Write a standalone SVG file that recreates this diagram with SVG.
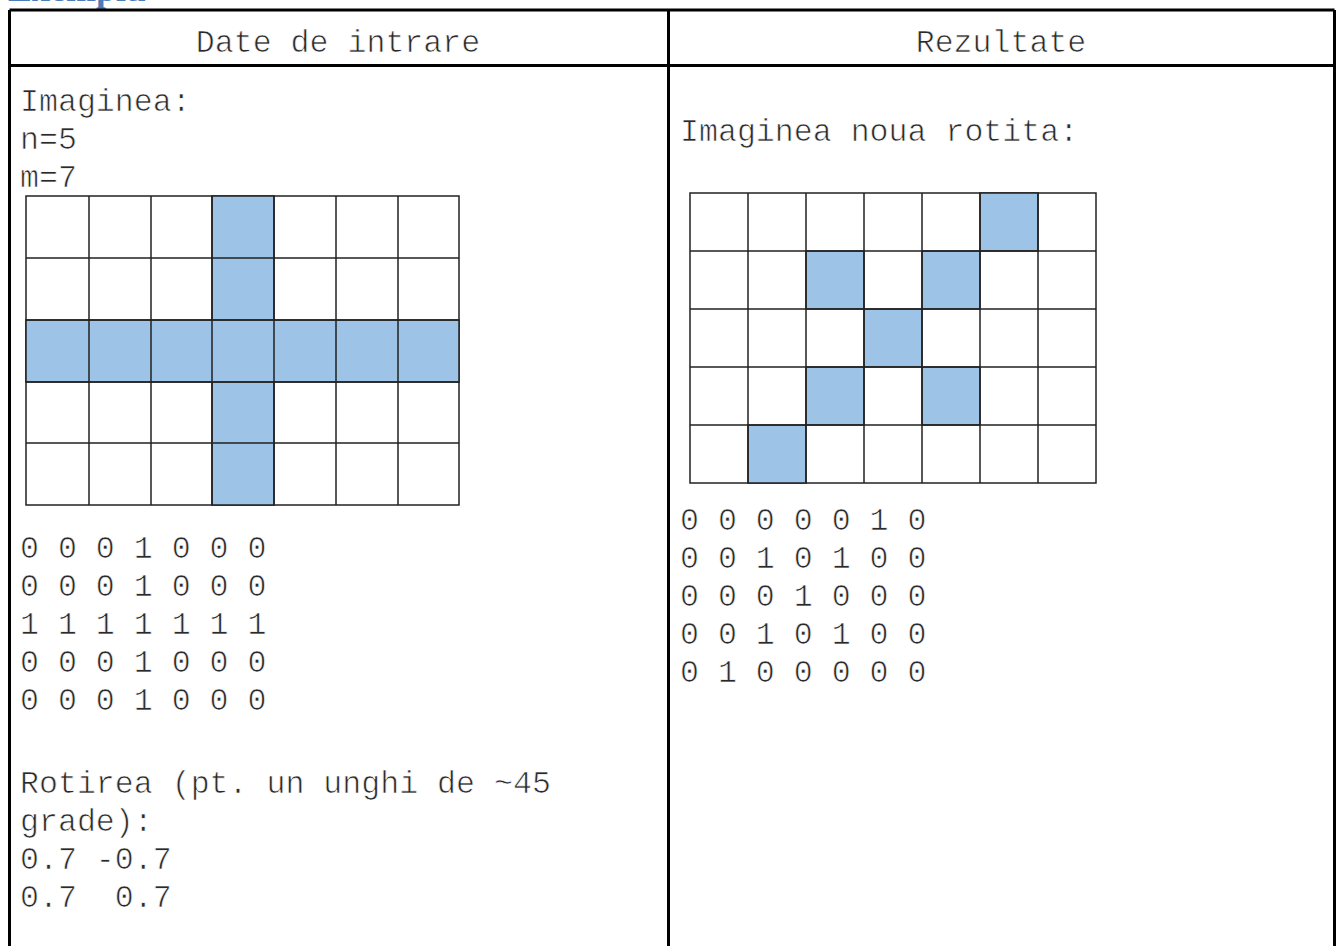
<svg xmlns="http://www.w3.org/2000/svg" width="1341" height="946" viewBox="0 0 1341 946">
<style>
.t{font-family:"Liberation Mono","Courier New",monospace;font-size:31.6px;fill:#2a2a2a;stroke:#fff;stroke-width:0.7px;paint-order:fill}
.b{stroke:#000;stroke-width:3;fill:none}
.c{fill:#fff;stroke:#222;stroke-width:1.5}
.f{fill:#9dc3e6;stroke:#222;stroke-width:1.5}
</style>
<rect width="1341" height="946" fill="#fff"/>
<text x="8" y="1" font-family="Liberation Serif,serif" font-weight="bold" font-size="36" fill="#4a7ebb">Exemplu</text>
<g id="table">
<path class="b" d="M9.5 10H1334.5M9.5 65.5H1334.5M9.5 10V946M668.5 10V946M1334.5 10V946"/>
</g>
<g id="header">
<text class="t" x="338" y="52" text-anchor="middle">Date de intrare</text>
<text class="t" x="1001" y="52" text-anchor="middle">Rezultate</text>
</g>
<g id="input">
<text class="t" x="20" y="111">Imaginea:</text>
<text class="t" x="20" y="149">n=5</text>
<text class="t" x="20" y="187">m=7</text>
<g id="grid-in">
<rect class="c" x="26" y="196" width="433" height="309"/>
<rect class="f" x="212" y="196" width="62" height="309"/>
<rect class="f" x="26" y="320" width="433" height="62"/>
<path stroke="#222" stroke-width="1.5" fill="none" d="M89 196V505M151 196V505M212 196V505M274 196V505M336 196V505M398 196V505M26 258H459M26 320H459M26 382H459M26 443H459"/>
</g>
<text class="t" x="20" y="558">0 0 0 1 0 0 0</text>
<text class="t" x="20" y="596">0 0 0 1 0 0 0</text>
<text class="t" x="20" y="634">1 1 1 1 1 1 1</text>
<text class="t" x="20" y="672">0 0 0 1 0 0 0</text>
<text class="t" x="20" y="710">0 0 0 1 0 0 0</text>
<text class="t" x="20" y="793">Rotirea (pt. un unghi de ~45</text>
<text class="t" x="20" y="831">grade):</text>
<text class="t" x="20" y="869" xml:space="preserve">0.7 -0.7</text>
<text class="t" x="20" y="907" xml:space="preserve">0.7  0.7</text>
</g>
<g id="output">
<text class="t" x="680" y="141">Imaginea noua rotita:</text>
<g id="grid-out">
<rect class="c" x="690" y="193" width="406" height="290"/>
<rect class="f" x="980" y="193" width="58" height="58"/>
<rect class="f" x="806" y="251" width="58" height="58"/>
<rect class="f" x="922" y="251" width="58" height="58"/>
<rect class="f" x="864" y="309" width="58" height="58"/>
<rect class="f" x="806" y="367" width="58" height="58"/>
<rect class="f" x="922" y="367" width="58" height="58"/>
<rect class="f" x="748" y="425" width="58" height="58"/>
<path stroke="#222" stroke-width="1.5" fill="none" d="M748 193V483M806 193V483M864 193V483M922 193V483M980 193V483M1038 193V483M690 251H1096M690 309H1096M690 367H1096M690 425H1096"/>
</g>
<text class="t" x="680" y="530">0 0 0 0 0 1 0</text>
<text class="t" x="680" y="568">0 0 1 0 1 0 0</text>
<text class="t" x="680" y="606">0 0 0 1 0 0 0</text>
<text class="t" x="680" y="644">0 0 1 0 1 0 0</text>
<text class="t" x="680" y="682">0 1 0 0 0 0 0</text>
</g>
</svg>
